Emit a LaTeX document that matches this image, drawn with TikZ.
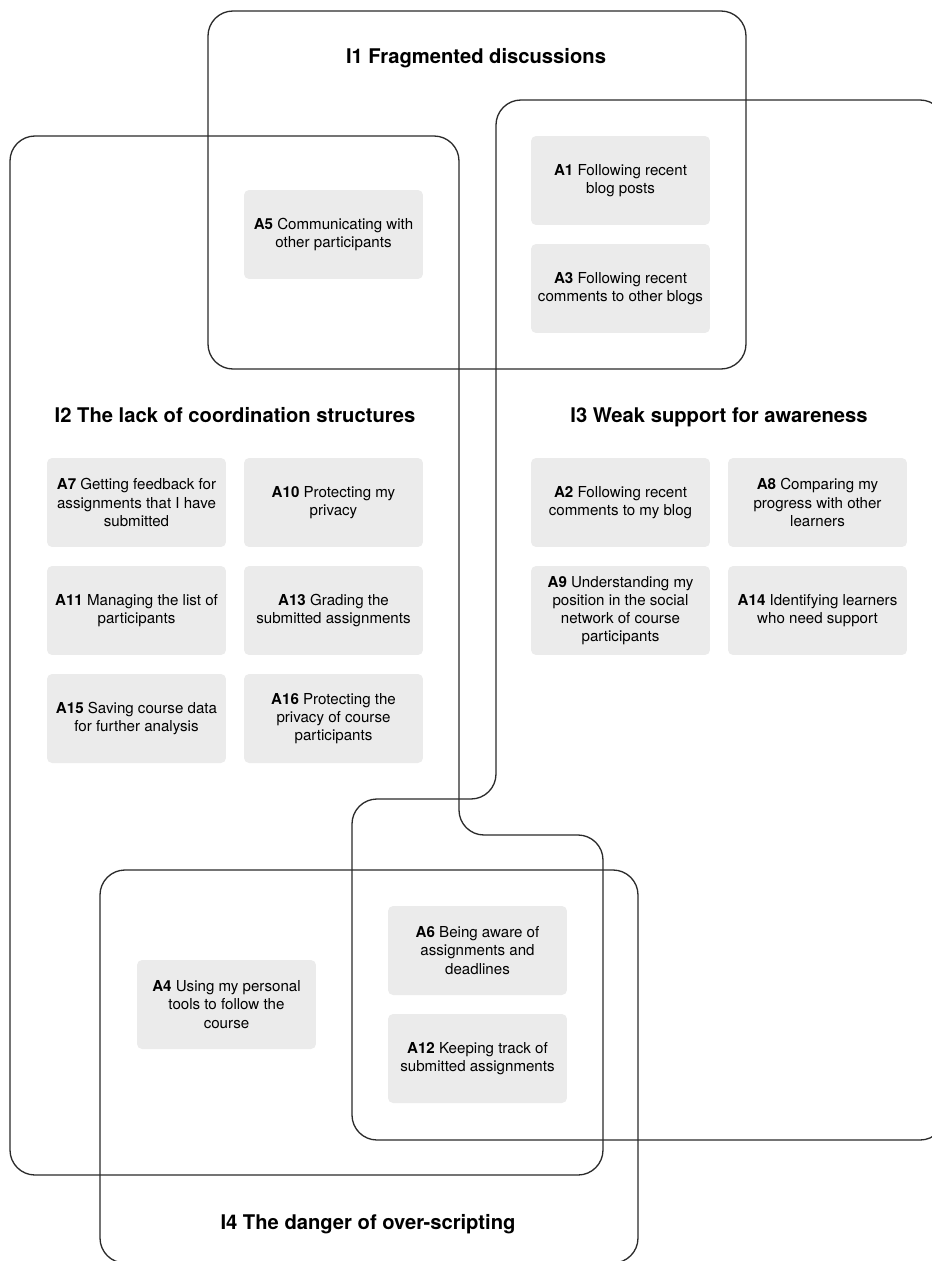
\documentclass[tikz,border=0pt]{standalone}
\usepackage{fontspec}
\setmainfont{TeX Gyre Heros}
\usepackage{tikz}
\usetikzlibrary{positioning}

\definecolor{boxgray}{HTML}{EBEBEB}
\definecolor{linegray}{HTML}{2A2A2A}

\tikzset{
  issue/.style={draw=linegray, line width=0.75pt, rounded corners=0.5cm},
  issuetitle/.style={anchor=base, font=\fontsize{11.5}{14}\selectfont\bfseries},
  activity/.style={fill=boxgray, rounded corners=0.1cm, minimum width=3.58cm,
    minimum height=1.78cm, align=center, inner sep=1pt,
    font=\fontsize{8.6}{10.3}\selectfont}
}

\begin{document}
\begin{tikzpicture}[x=0.02cm, y=-0.02cm]
        \useasboundingbox (0,0) rectangle (931,1261);
        % issue areas
        \draw[issue] (208,11) rectangle (746,369);
        \draw[issue] (10,136) -- (459,136) -- (459,835) -- (603,835)
          -- (603,1175) -- (10,1175) -- cycle;
        \draw[issue] (496,100) -- (945,100) -- (945,1140) -- (352,1140)
          -- (352,799) -- (496,799) -- cycle;
        \draw[issue] (100,870) rectangle (638,1263);
        % issue titles
        \node[issuetitle] (i1) at (476,63) {I1 Fragmented discussions};
        \node[issuetitle] (i2) at (235,422) {I2 The lack of coordination structures};
        \node[issuetitle] (i3) at (719,422) {I3 Weak support for awareness};
        \node[issuetitle] (i4) at (368,1229) {I4 The danger of over-scripting};
        % activities
        \node[activity] (a5) at (333.5,234.5) {\textbf{A5} Communicating with\\other participants};
        \node[activity] (a1) at (620.5,180.5) {\textbf{A1} Following recent\\blog posts};
        \node[activity] (a3) at (620.5,288.5) {\textbf{A3} Following recent\\comments to other blogs};
        \node[activity] (a7) at (136.5,502.5) {\textbf{A7} Getting feedback for\\assignments that I have\\submitted};
        \node[activity] (a10) at (333.5,502.5) {\textbf{A10} Protecting my\\privacy};
        \node[activity] (a11) at (136.5,610.5) {\textbf{A11} Managing the list of\\participants};
        \node[activity] (a13) at (333.5,610.5) {\textbf{A13} Grading the\\submitted assignments};
        \node[activity] (a15) at (136.5,718.5) {\textbf{A15} Saving course data\\for further analysis};
        \node[activity] (a16) at (333.5,718.5) {\textbf{A16} Protecting the\\privacy of course\\participants};
        \node[activity] (a2) at (620.5,502.5) {\textbf{A2} Following recent\\comments to my blog};
        \node[activity] (a8) at (817.5,502.5) {\textbf{A8} Comparing my\\progress with other\\learners};
        \node[activity] (a9) at (620.5,610.5) {\textbf{A9} Understanding my\\position in the social\\network of course\\participants};
        \node[activity] (a14) at (817.5,610.5) {\textbf{A14} Identifying learners\\who need support};
        \node[activity] (a6) at (477.5,950.5) {\textbf{A6} Being aware of\\assignments and\\deadlines};
        \node[activity] (a12) at (477.5,1058.5) {\textbf{A12} Keeping track of\\submitted assignments};
        \node[activity] (a4) at (226.5,1004.5) {\textbf{A4} Using my personal\\tools to follow the\\course};
\end{tikzpicture}
\end{document}
